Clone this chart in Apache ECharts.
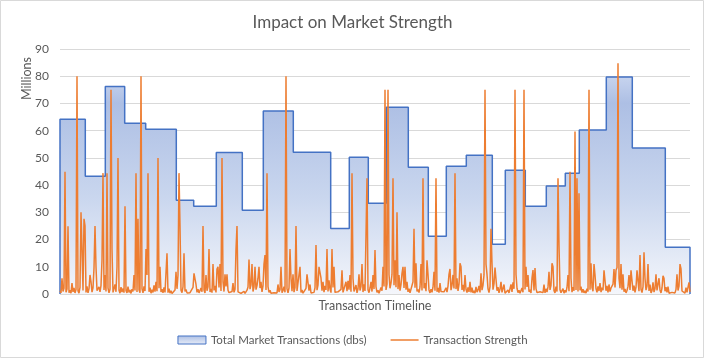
<!DOCTYPE html>
<html><head><meta charset="utf-8">
<script src="https://cdn.jsdelivr.net/npm/echarts@6/dist/echarts.min.js"></script>
<style>html,body{margin:0;padding:0;background:#fff}#c{width:705px;height:360px}</style>
</head><body><div id="c"></div>
<script>
const titleText = 'Impact on Market Strength';
const xAxisName = 'Transaction Timeline';
const yAxisName = 'Millions';
const seriesNames = ['Total Market Transactions (dbs)', 'Transaction Strength'];

// Transaction Strength, one value per transaction slot (millions), 631 slots
const strength = [
  1.2, 0.4, 5.8, 0.9, 2.1, 44.9, 0.6, 1.8, 24.9, 0.5, 1.4, 0.3, 4.0, 0.8, 2.2, 0.4, 1.6, 80, 1.1, 0.3,
  2.4, 30, 16.5, 1.3, 27.6, 25, 0.6, 2.8, 0.4, 1.9, 7, 4.5, 0.7, 2.3, 9.5, 25, 10, 1.2, 0.5, 2.6,
  0.8, 3.1, 12.4, 44.4, 1.5, 7, 0.9, 44.4, 2.2, 0.4, 1.7, 75, 16.5, 0.6, 2.0, 3.5, 0.8, 10, 50, 1.4,
  0.3, 2.5, 0.7, 2.0, 0.5, 32.2, 1.2, 0.4, 2.7, 0.6, 1.5, 0.2, 1.8, 0.9, 7, 1.3, 44.4, 0.7, 27.6, 1.6,
  0.5, 80, 1.9, 0.4, 2.8, 1.1, 16.5, 7, 44.4, 0.8, 2.3, 0.3, 1.6, 0.6, 3.2, 0.9, 4.5, 1.0, 50, 2.1,
  10, 0.7, 1.8, 0.4, 2.4, 0.6, 1.3, 15, 0.5, 2.0, 0.3, 1.2, 0.2, 0.8, 0.3, 1.5, 8.2, 1.9, 7, 44.4,
  25, 1.4, 0.5, 2.6, 15, 0.9, 1.7, 0.4, 0.6, 0.2, 0.5, 0.2, 1.1, 2.4, 7.6, 7.6, 3.5, 0.6, 1.8, 0.4,
  0.3, 2.2, 0.8, 25, 1.5, 0.4, 7, 1.2, 2.6, 16.5, 0.7, 1.9, 0.5, 11, 1.3, 3.0, 0.6, 9.2, 10, 2.4,
  11, 1.1, 50, 4.5, 0.9, 7.2, 2.8, 7.2, 1.4, 0.5, 1.2, 0.3, 0.9, 4, 0.6, 1.7, 16.5, 25, 0.8, 0.3,
  0.4, 0.2, 0.7, 0.3, 1.0, 0.2, 0.5, 1.4, 2.6, 12.7, 1.8, 3.4, 11, 0.9, 2.5, 10, 1.6, 3.1, 5.8, 10,
  2.2, 4.5, 0.8, 3.0, 11, 14.3, 1.5, 44.4, 2.7, 0.6, 1.4, 0.3, 0.7, 0.2, 0.5, 0.2, 1.1, 0.4, 3.5, 0.8,
  1.6, 10, 0.5, 1.3, 2.7, 0.6, 80, 1.9, 0.4, 2.2, 16.5, 5.8, 1.0, 7.2, 0.7, 2.4, 25, 1.1, 0.4, 1.8,
  10, 0.6, 1.5, 0.3, 0.8, 0.2, 2.1, 7.2, 7.2, 1.2, 3.5, 0.4, 1.0, 0.2, 0.6, 2.3, 18, 1.4, 3.3, 10,
  10, 5.8, 1.2, 4.5, 0.7, 3, 1.5, 16.5, 0.9, 5, 1.8, 0.5, 16.5, 2.4, 10, 0.6, 1.3, 0.3, 0.8, 0.2,
  0.5, 1.7, 8.7, 0.6, 1.2, 0.3, 4.5, 1.0, 4.8, 1.6, 7, 0.8, 44.4, 5.8, 0.9, 2.0, 3.3, 0.4, 1.9, 7.2,
  1.3, 2.8, 11, 0.7, 3.5, 1.1, 0.4, 42.5, 1.6, 0.5, 2.2, 4.5, 0.9, 7, 1.8, 16.2, 2.6, 0.6, 1.4, 0.3,
  0.9, 2.4, 1.2, 10, 2.8, 75, 1.5, 3.6, 75, 7.2, 2.1, 4.0, 7.2, 42.5, 3.2, 12.4, 2.5, 30, 1.8, 7,
  1.2, 3.4, 7.6, 10, 2.2, 10, 1.6, 4.5, 0.8, 2.0, 0.4, 1.1, 0.6, 4.5, 24, 2.3, 11.3, 0.9, 1.7, 0.5,
  2.6, 11, 1.3, 42.5, 2.1, 4, 1.0, 12.4, 7.2, 1.5, 0.4, 1.8, 0.6, 2.5, 8.2, 1.2, 42.5, 0.8, 2.2, 0.5,
  4, 0.9, 1.6, 0.3, 0.8, 0.2, 2.3, 0.7, 2.9, 7.2, 9.2, 1.4, 3.3, 7, 2.0, 44.4, 1.8, 5.8, 1.1, 3.6,
  11.3, 10, 1.5, 3.4, 0.9, 7, 1.7, 0.5, 2.4, 0.8, 4.5, 0.6, 2.3, 0.4, 1.2, 0.3, 2.6, 0.7, 1.5, 3.0,
  0.6, 7.6, 1.4, 3.2, 7, 75, 11, 7.2, 1.9, 0.5, 2.7, 24, 11.3, 1.6, 3.8, 9.7, 9.7, 1.2, 2.5, 0.4,
  1.8, 4.5, 0.6, 1.3, 3.5, 0.3, 0.9, 0.2, 1.5, 0.4, 1.1, 3.5, 0.8, 4.3, 1.9, 75, 7.2, 2.1, 0.5, 1.4,
  0.3, 0.9, 2.2, 0.6, 75, 1.7, 10, 2.6, 7, 0.8, 1.6, 0.4, 5.8, 8.8, 1.3, 9.5, 2.0, 0.5, 1.2, 0.3,
  0.8, 0.2, 1.4, 0.5, 3.5, 0.4, 1.9, 0.7, 2.6, 8.2, 1.5, 3.2, 11.3, 10, 1.2, 0.4, 2.7, 0.9, 42.5, 18,
  1.6, 0.5, 1.1, 2, 0.3, 1.4, 0.6, 2.4, 7, 1.0, 44.9, 5.8, 0.7, 2.5, 1.2, 59.7, 1.5, 42.5, 0.9, 37,
  1.4, 2.7, 0.5, 1.8, 0.4, 1.2, 0.3, 2.0, 0.9, 75, 1.6, 11.3, 2.4, 1.0, 11, 7, 1.9, 0.6, 2.8, 1.1,
  4, 0.7, 2.3, 1.4, 8.7, 8.2, 1.2, 3.0, 0.6, 3.5, 0.9, 2.2, 1.5, 3.6, 9.2, 2.4, 8.7, 9.7, 84.8, 5.8,
  2.1, 11, 1.6, 7.2, 0.8, 1.9, 0.4, 1.3, 2.8, 7, 1.5, 8.7, 8.2, 1.2, 3.1, 0.6, 2.4, 8.7, 8.2, 1.0,
  14.3, 1.7, 0.5, 2.6, 15.3, 5.8, 1.4, 2.9, 11, 1.1, 3.5, 0.4, 1.2, 4.3, 0.7, 2.0, 7.2, 1.3, 0.6, 5.8,
  1.5, 0.4, 2.2, 6.7, 5.8, 1.0, 2.5, 0.6, 2.7, 0.3, 0.9, 0.2, 0.6, 0.2, 1.0, 0.4, 1.7, 7.2, 1.3, 2.9,
  11, 9.2, 1.1, 0.4, 1.5, 0.3, 2.3, 0.6, 1.0, 4.3, 0.8
];

// Total Market Transactions: step levels (first slot of each level and its value, millions)
const stepStarts = [0, 25.3, 45.3, 64.7, 85.7, 116.3, 133.7, 156.3, 182.3, 203.3, 233.3, 270.7, 289.3, 308.3,
  326.3, 348.3, 368.3, 386.3, 406.3, 432.3, 445.3, 465.3, 486.3, 505.3, 519.3, 546.3, 572.3, 605.3];
const stepValues = [64.2, 43.3, 76.2, 62.7, 60.5, 34.4, 32.2, 52.0, 30.8, 67.2, 52.1, 24.1, 50.2, 33.3,
  68.6, 46.6, 21.2, 46.9, 51.0, 18.3, 45.5, 32.2, 39.7, 44.4, 60.2, 79.7, 53.6, 17.2];
const stepEnd = 630;

const yMin = 0, yMax = 90, yStep = 10;

const strengthData = strength.map((v, i) => [i, v]);
const stepData = [[stepStarts[0], 0]]
  .concat(stepStarts.map((s, i) => [s, stepValues[i]]))
  .concat([[stepEnd, stepValues[stepValues.length - 1]], [stepEnd, 0]]);

const FONT = 'Lato';
const TXT = '#595959';
const areaGrad = new echarts.graphic.LinearGradient(0, 0, 0, 1, [
  { offset: 0, color: '#c6d3ee' },
  { offset: 0.12, color: '#adbfe4' },
  { offset: 0.55, color: '#c9d6ee' },
  { offset: 1, color: '#f4f6fb' }
]);
const legendGrad = new echarts.graphic.LinearGradient(0, 0, 0, 1, [
  { offset: 0, color: '#adbfe4' },
  { offset: 1, color: '#e8edf8' }
]);

const chart = echarts.init(document.getElementById('c'), null, { renderer: 'canvas' });
chart.setOption({
  animation: false,
  backgroundColor: '#ffffff',
  title: {
    text: titleText, left: 'center', top: 9,
    textStyle: { fontFamily: FONT, fontSize: 17, fontWeight: 'normal', color: TXT }
  },
  grid: { left: 60, right: 15, top: 49, bottom: 66 },
  legend: {
    bottom: 9, left: 'center', itemGap: 24, itemWidth: 28, itemHeight: 8,
    textStyle: { fontFamily: FONT, fontSize: 11.5, color: TXT },
    data: [
      { name: seriesNames[0], icon: 'rect', itemStyle: { color: legendGrad, borderColor: '#4472c4', borderWidth: 1 } },
      { name: seriesNames[1], icon: 'path://M0,0 L30,0 L30,1.6 L0,1.6 Z', itemStyle: { color: '#ed7d31', borderWidth: 0 } }
    ]
  },
  xAxis: {
    type: 'value', min: 0, max: stepEnd,
    name: xAxisName, nameLocation: 'middle', nameGap: 5,
    nameTextStyle: { fontFamily: FONT, fontSize: 12.5, color: TXT, verticalAlign: 'top' },
    axisLine: { show: false }, axisTick: { show: false }, axisLabel: { show: false }, splitLine: { show: false }
  },
  yAxis: {
    type: 'value', min: yMin, max: yMax, interval: yStep,
    axisLine: { show: false }, axisTick: { show: false },
    axisLabel: { fontFamily: FONT, fontSize: 12, color: TXT, margin: 11 },
    splitLine: { lineStyle: { color: '#d9d9d9', width: 1 } }
  },
  graphic: [
    { type: 'text', rotation: Math.PI / 2, x: 20, y: 100,
      style: { text: yAxisName, fontFamily: FONT, fontSize: 12.5, fill: TXT } },
    { type: 'rect', shape: { x: 0.5, y: 0.5, width: 703, height: 357 }, style: { fill: null, stroke: '#d9d9d9', lineWidth: 1 }, silent: true, z: -1 }
  ],
  series: [
    {
      name: seriesNames[0], type: 'line', step: 'end', data: stepData,
      showSymbol: false, symbol: 'none', z: 1,
      lineStyle: { color: '#4472c4', width: 1.5 },
      itemStyle: { color: '#4472c4' },
      areaStyle: { color: areaGrad, opacity: 1, origin: 'start' }
    },
    {
      name: seriesNames[1], type: 'line', data: strengthData,
      showSymbol: false, symbol: 'none', z: 2,
      lineStyle: { color: '#ed7d31', width: 1.5 },
      itemStyle: { color: '#ed7d31' }
    }
  ]
});
</script>
</body></html>
